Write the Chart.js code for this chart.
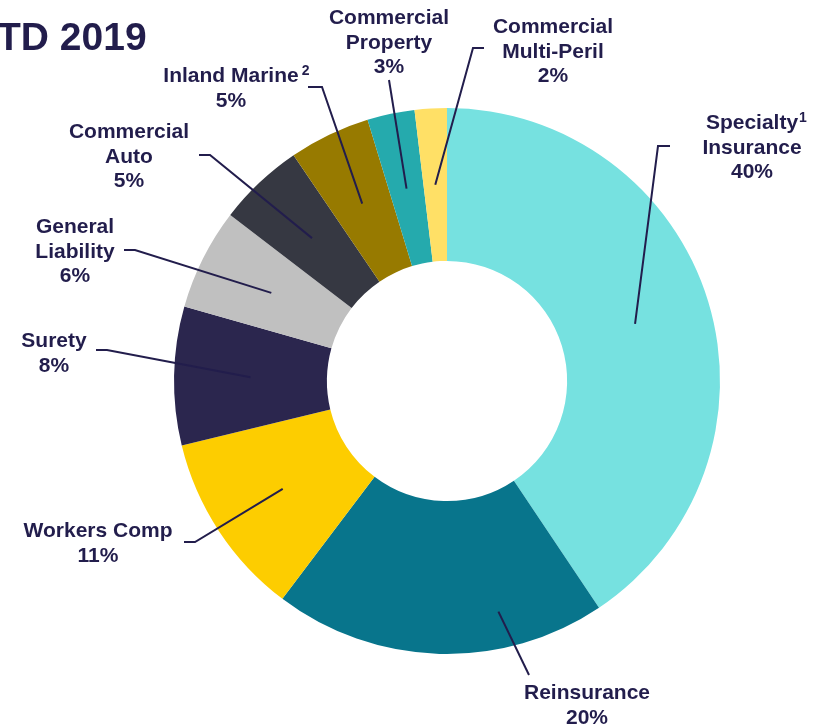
<!DOCTYPE html>
<html>
<head>
<meta charset="utf-8">
<script src="https://cdn.jsdelivr.net/npm/chart.js@4.4.1/dist/chart.umd.min.js"></script>
<style>
  html, body { margin: 0; padding: 0; background: #fff; }
  canvas { display: block; }
</style>
</head>
<body>
<canvas id="mix" width="821" height="727"></canvas>
<script>
// --- data ---
const categories = ['Specialty Insurance', 'Reinsurance', 'Workers Comp', 'Surety', 'General Liability',
  'Commercial Auto', 'Inland Marine', 'Commercial Property', 'Commercial Multi-Peril'];
const shares = [40.6, 19.7, 10.9, 8.2, 6.0, 5.1, 4.8, 2.8, 1.9];
const pctLabels = ['40%', '20%', '11%', '8%', '6%', '5%', '5%', '3%', '2%'];
const nameLines = [['Specialty', 'Insurance'], ['Reinsurance'], ['Workers Comp'], ['Surety'], ['General', 'Liability'],
  ['Commercial', 'Auto'], ['Inland Marine'], ['Commercial', 'Property'], ['Commercial', 'Multi-Peril']];
const footnotes = ['1', '', '', '', '', '', '2', '', ''];
const sliceColors = ['#76E1E0', '#08758C', '#FDCD00', '#2B264E', '#C0C0C0', '#363842', '#977A00', '#25AAAD', '#FFE066'];
const titleText = 'TD 2019';

// --- label layout (text centre x, first baseline y) and leader start / knee ---
const labelPos = [[752, 129], [587, 699], [98, 537], [54, 347], [75, 233], [129, 138], [231, 82], [389, 24], [553, 33]];
const leaderStart = [[670, 146], [529, 675], [184, 542], [96, 350], [124, 250], [199, 155], [308, 87], [389, 80], [484, 48]];
const leaderKnee = [[658, 146], null, [195, 542], [107, 350], [135, 250], [210, 155], [322, 87], null, [473, 48]];
// where the leader ends inside its slice: [fraction of the angle, fraction of the ring width]
const leaderAnchor = [[0.5, 0.5], [0.3, 0.76], [0.5, 0.5], [0.5, 0.5], [0.5, 0.5], [0.5, 0.5], [0.5, 0.5], [0.5, 0.5], [0.5, 0.5]];

const INK = '#221D4C';
const FONT = '"Liberation Sans", Arial, sans-serif';
const LINE_H = 24.5;

const labelsPlugin = {
  id: 'sliceLabels',
  afterDraw(chart) {
    const ctx = chart.ctx;
    const arcs = chart.getDatasetMeta(0).data;
    ctx.save();

    // title
    ctx.fillStyle = INK;
    ctx.font = 'bold 39px ' + FONT;
    ctx.textAlign = 'left';
    ctx.textBaseline = 'alphabetic';
    ctx.fillText(titleText, -3, 50);

    // leader lines
    ctx.strokeStyle = INK;
    ctx.lineWidth = 2;
    arcs.forEach((arc, i) => {
      const p = arc.getProps(['x', 'y', 'startAngle', 'endAngle', 'innerRadius', 'outerRadius'], true);
      const [fa, fr] = leaderAnchor[i];
      const a = p.startAngle + (p.endAngle - p.startAngle) * fa;
      const r = p.innerRadius + (p.outerRadius - p.innerRadius) * fr;
      ctx.beginPath();
      ctx.moveTo(leaderStart[i][0], leaderStart[i][1]);
      if (leaderKnee[i]) ctx.lineTo(leaderKnee[i][0], leaderKnee[i][1]);
      ctx.lineTo(p.x + Math.cos(a) * r, p.y + Math.sin(a) * r);
      ctx.stroke();
    });

    // texts
    ctx.textAlign = 'center';
    nameLines.forEach((lines, i) => {
      const [x, y] = labelPos[i];
      ctx.font = 'bold 21px ' + FONT;
      lines.forEach((t, k) => ctx.fillText(t, x, y + k * LINE_H));
      ctx.fillText(pctLabels[i], x, y + lines.length * LINE_H);
      if (footnotes[i]) {
        const w = ctx.measureText(lines[0]).width;
        ctx.font = 'bold 14px ' + FONT;
        ctx.textAlign = 'left';
        ctx.fillText(footnotes[i], x + w / 2 + (i === 6 ? 3 : 1), y - 7);
        ctx.textAlign = 'center';
      }
    });
    ctx.restore();
  }
};

new Chart(document.getElementById('mix'), {
  type: 'doughnut',
  data: {
    labels: categories,
    datasets: [{
      data: shares,
      backgroundColor: sliceColors,
      borderWidth: 0,
      hoverOffset: 0
    }]
  },
  options: {
    responsive: false,
    animation: false,
    cutout: '44%',
    layout: { padding: { left: 174, right: 101, top: 108, bottom: 73 } },
    plugins: {
      legend: { display: false },
      tooltip: { enabled: false }
    }
  },
  plugins: [labelsPlugin]
});
</script>
</body>
</html>
